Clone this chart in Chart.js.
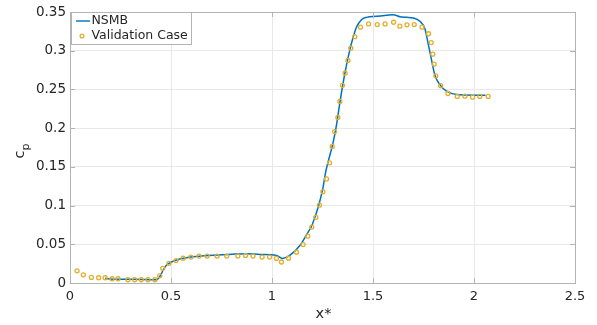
<!DOCTYPE html>
<html>
<head>
<meta charset="utf-8">
<script src="https://cdn.jsdelivr.net/npm/chart.js@4/dist/chart.umd.min.js"></script>
<style>
  html, body { margin: 0; padding: 0; background: #fff; }
  #wrap { width: 597px; height: 325px; position: relative; }
</style>
</head>
<body>
<div id="wrap"><canvas id="c" width="597" height="325"></canvas></div>
<script>
// ---- data ----
const nsmbX = [0.174, 0.213, 0.312, 0.428, 0.444, 0.461, 0.477, 0.502, 0.543, 0.609, 0.708, 0.807, 0.874, 0.940, 1.022, 1.052, 1.088, 1.138, 1.170, 1.200, 1.250, 1.266, 1.303, 1.320, 1.336, 1.352, 1.369, 1.385, 1.402, 1.418, 1.443, 1.468, 1.518, 1.567, 1.600, 1.633, 1.666, 1.699, 1.732, 1.757, 1.773, 1.790, 1.806, 1.831, 1.864, 1.914, 1.996, 2.057];
const nsmbY = [0.0060, 0.0050, 0.0047, 0.0042, 0.0080, 0.0165, 0.0229, 0.0271, 0.0310, 0.0340, 0.0360, 0.0373, 0.0378, 0.0369, 0.0356, 0.0318, 0.0356, 0.0484, 0.0620, 0.0760, 0.1200, 0.1438, 0.1820, 0.2053, 0.2329, 0.2584, 0.2817, 0.3008, 0.3178, 0.3305, 0.3402, 0.3432, 0.3445, 0.3458, 0.3466, 0.3440, 0.3432, 0.3424, 0.3381, 0.3284, 0.3093, 0.2880, 0.2689, 0.2562, 0.2478, 0.2435, 0.2427, 0.2427];

const valX = [0.035, 0.066, 0.106, 0.142, 0.174, 0.208, 0.238, 0.287, 0.320, 0.353, 0.386, 0.420, 0.444, 0.459, 0.490, 0.525, 0.560, 0.599, 0.639, 0.679, 0.728, 0.776, 0.831, 0.869, 0.906, 0.951, 0.988, 1.022, 1.047, 1.082, 1.121, 1.154, 1.177, 1.197, 1.217, 1.235, 1.252, 1.270, 1.285, 1.298, 1.310, 1.326, 1.336, 1.349, 1.362, 1.376, 1.390, 1.410, 1.438, 1.478, 1.521, 1.560, 1.602, 1.633, 1.668, 1.704, 1.743, 1.775, 1.788, 1.796, 1.803, 1.811, 1.835, 1.871, 1.917, 1.955, 1.993, 2.029, 2.070];
const valY = [0.0157, 0.0106, 0.0072, 0.0068, 0.0068, 0.0055, 0.0055, 0.0042, 0.0042, 0.0042, 0.0042, 0.0042, 0.0093, 0.0190, 0.0254, 0.0290, 0.0320, 0.0335, 0.0348, 0.0348, 0.0348, 0.0348, 0.0348, 0.0356, 0.0348, 0.0335, 0.0335, 0.0318, 0.0271, 0.0320, 0.0397, 0.0496, 0.0605, 0.0723, 0.0849, 0.1005, 0.1180, 0.1345, 0.1553, 0.1765, 0.1956, 0.2138, 0.2346, 0.2554, 0.2711, 0.2876, 0.3034, 0.3182, 0.3305, 0.3347, 0.3339, 0.3347, 0.3369, 0.3318, 0.3335, 0.3339, 0.3305, 0.3220, 0.3106, 0.2957, 0.2829, 0.2677, 0.2550, 0.2448, 0.2410, 0.2414, 0.2401, 0.2410, 0.2410];

const xTicks = [0, 0.5, 1, 1.5, 2, 2.5];
const yTicks = [0, 0.05, 0.1, 0.15, 0.2, 0.25, 0.3, 0.35];
const seriesNames = ['NSMB', 'Validation Case'];
const xLabel = 'x*';
const yLabelMain = 'c';
const yLabelSub = 'p';

// ---- styles ----
const FONT = '"DejaVu Sans", sans-serif';
const TEXT = '#262626';
const AXIS = '#b3b3b3';
const GRID = '#e8e8e8';
const BLUE = '#0072BD';
const GOLD = '#E3AE2C';

const fmt = v => String(Math.round(v * 1000) / 1000);

const boxPlugin = {
  id: 'box',
  afterDatasetsDraw(chart) {
    const ctx = chart.ctx;
    const a = chart.chartArea;
    const xs = chart.scales.x, ys = chart.scales.y;
    ctx.save();
    ctx.strokeStyle = AXIS;
    ctx.lineWidth = 1;
    const tl = 5;
    ctx.beginPath();
    xTicks.forEach(v => {
      const px = Math.round(xs.getPixelForValue(v)) + 0.5;
      ctx.moveTo(px, a.bottom); ctx.lineTo(px, a.bottom - tl);
      ctx.moveTo(px, a.top); ctx.lineTo(px, a.top + tl);
    });
    yTicks.forEach(v => {
      const py = Math.round(ys.getPixelForValue(v)) + 0.5;
      ctx.moveTo(a.left, py); ctx.lineTo(a.left + tl, py);
      ctx.moveTo(a.right, py); ctx.lineTo(a.right - tl, py);
    });
    ctx.stroke();
    ctx.strokeRect(Math.round(a.left) + 0.5, Math.round(a.top) + 0.5,
                   Math.round(a.right - a.left), Math.round(a.bottom - a.top));
    ctx.restore();
  },
  afterDraw(chart) {
    const ctx = chart.ctx;
    const a = chart.chartArea;
    ctx.save();
    ctx.fillStyle = TEXT;
    ctx.font = '14.5px ' + FONT;
    ctx.textAlign = 'center';
    ctx.textBaseline = 'middle';
    ctx.fillText(xLabel, (a.left + a.right) / 2 + 1, 314);
    ctx.save();
    ctx.translate(20, (a.top + a.bottom) / 2 + 3);
    ctx.rotate(-Math.PI / 2);
    ctx.textAlign = 'left';
    ctx.textBaseline = 'alphabetic';
    ctx.font = '14.5px ' + FONT;
    const cw = ctx.measureText(yLabelMain).width;
    ctx.fillText(yLabelMain, -cw, 4);
    ctx.font = '11px ' + FONT;
    ctx.fillText(yLabelSub, 0, 9);
    ctx.restore();

    // legend
    const lx = 71, ly = 12, lw = 120, lh = 32;
    ctx.fillStyle = '#ffffff';
    ctx.fillRect(lx, ly, lw, lh);
    ctx.strokeStyle = AXIS;
    ctx.lineWidth = 1;
    ctx.strokeRect(lx + 0.5, ly + 0.5, lw, lh);
    ctx.strokeStyle = BLUE;
    ctx.lineWidth = 1.4;
    ctx.beginPath();
    ctx.moveTo(lx + 5, ly + 9);
    ctx.lineTo(lx + 19, ly + 9);
    ctx.stroke();
    ctx.strokeStyle = GOLD;
    ctx.lineWidth = 1.3;
    ctx.beginPath();
    ctx.arc(lx + 11, ly + 24, 1.9, 0, Math.PI * 2);
    ctx.stroke();
    ctx.fillStyle = TEXT;
    ctx.font = '12.5px ' + FONT;
    ctx.textAlign = 'left';
    ctx.textBaseline = 'middle';
    ctx.fillText(seriesNames[0], lx + 20.5, ly + 9);
    ctx.fillText(seriesNames[1], lx + 20.5, ly + 24);
    ctx.restore();
  }
};

new Chart(document.getElementById('c'), {
  type: 'scatter',
  data: {
    datasets: [
      {
        label: seriesNames[0],
        data: nsmbX.map((x, i) => ({ x, y: nsmbY[i] })),
        showLine: true,
        borderColor: BLUE,
        backgroundColor: BLUE,
        borderWidth: 1.5,
        pointRadius: 0,
        cubicInterpolationMode: 'monotone',
        order: 2
      },
      {
        label: seriesNames[1],
        data: valX.map((x, i) => ({ x, y: valY[i] })),
        showLine: false,
        borderColor: GOLD,
        backgroundColor: 'rgba(0,0,0,0)',
        borderWidth: 1.3,
        pointRadius: 2,
        pointStyle: 'circle',
        order: 1
      }
    ]
  },
  options: {
    responsive: false,
    animation: false,
    devicePixelRatio: 1,
    layout: { padding: { left: 0, top: 8, right: 22, bottom: 0 } },
    plugins: { legend: { display: false }, tooltip: { enabled: false } },
    scales: {
      x: {
        type: 'linear',
        min: 0, max: 2.5,
        afterBuildTicks: s => { s.ticks = xTicks.map(v => ({ value: v })); },
        afterFit: s => { s.height = 42; },
        grid: { color: GRID, drawTicks: false, lineWidth: 1 },
        border: { display: false },
        ticks: {
          color: TEXT, font: { family: FONT, size: 13 }, padding: 6,
          maxRotation: 0, autoSkip: false,
          callback: v => fmt(v)
        }
      },
      y: {
        type: 'linear',
        min: 0, max: 0.35,
        afterBuildTicks: s => { s.ticks = yTicks.map(v => ({ value: v })); },
        afterFit: s => { s.width = 70; },
        grid: { color: GRID, drawTicks: false, lineWidth: 1 },
        border: { display: false },
        ticks: {
          color: TEXT, font: { family: FONT, size: 13.5 }, padding: 4,
          autoSkip: false,
          callback: v => fmt(v)
        }
      }
    }
  },
  plugins: [boxPlugin]
});
</script>
</body>
</html>
